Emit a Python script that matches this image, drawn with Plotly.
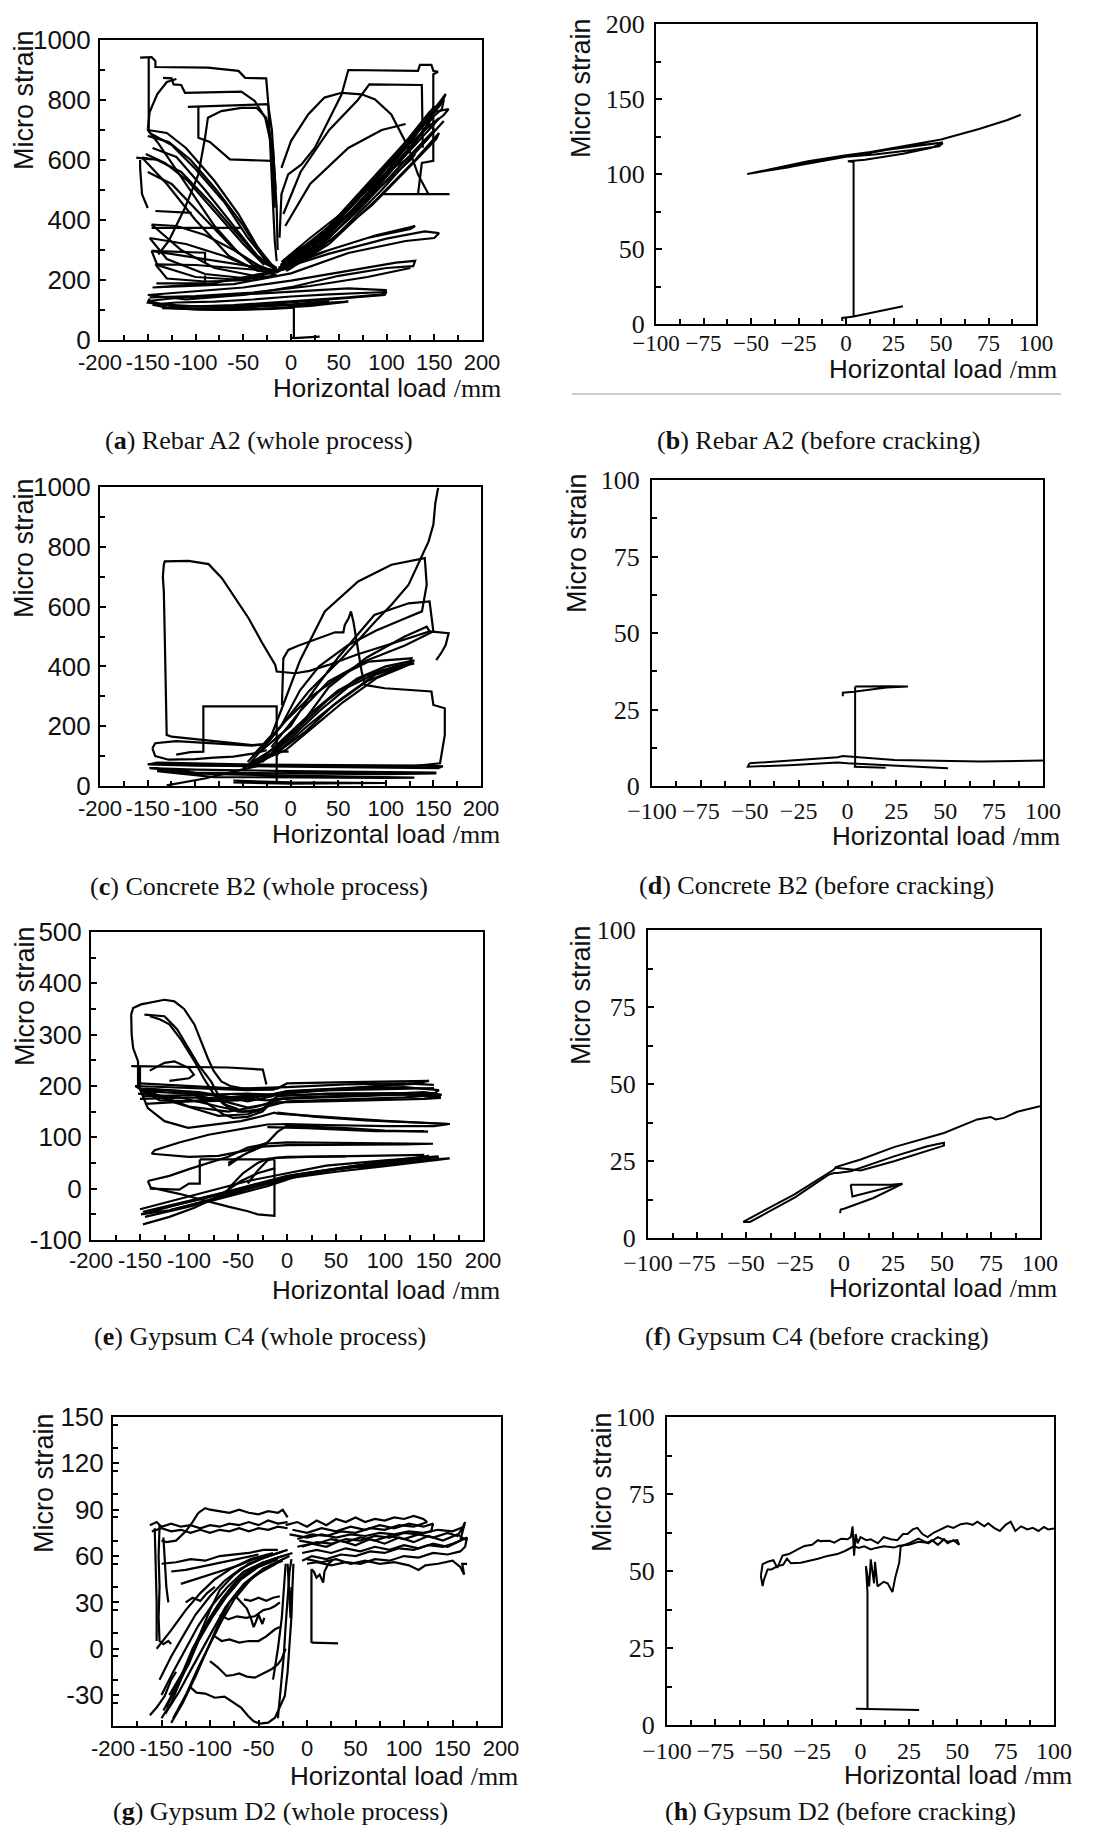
import plotly.graph_objects as go

W, H = 1107, 1825

# ---------------- data ----------------
# (a) Rebar A2, whole process: (horizontal load, micro strain) polylines
A_PATHS = [
    [(0.5, 8), (3, 6), (30, 11)],
    [(3, 6), (3, 108)],
    [(3, 108), (-20, 104), (-60, 100), (-100, 102), (-130, 108), (-145, 118), (-120, 125), (-80, 128), (-40, 135), (0, 145), (40, 152), (80, 158), (100, 160), (98, 150), (60, 140), (20, 130), (-20, 120), (-70, 112), (-120, 112), (-150, 125), (-148, 138)],
    [(-150, 130), (-120, 140), (-60, 150), (0, 162), (60, 172), (100, 166), (95, 152), (60, 142), (0, 128), (-60, 116), (-120, 110), (-150, 130)],
    [(-150, 150), (-110, 160), (-50, 175), (0, 198), (60, 232), (110, 258), (130, 264), (128, 246), (100, 240), (50, 214), (0, 176), (-50, 150), (-110, 135), (-150, 150)],
    [(-145, 175), (-80, 190), (-20, 228), (40, 288), (100, 338), (140, 362), (155, 356), (150, 340), (120, 330), (60, 290), (0, 222), (-60, 186), (-145, 175)],
    [(-135, 106), (-80, 100), (-30, 104), (20, 114), (60, 128), (20, 120), (-40, 110), (-100, 104), (-135, 106)],
    [(-140, 120), (-100, 112), (-50, 110), (0, 118), (40, 130)],
    [(-148, 142), (-100, 146), (-40, 158), (20, 180), (80, 210), (125, 240)],
    [(-15, 230), (20, 300), (60, 420), (100, 560), (130, 680), (150, 780), (148, 740), (120, 620), (80, 470), (40, 340), (0, 240), (-15, 230)],
    [(-12, 240), (30, 340), (70, 480), (110, 620), (145, 760), (160, 800), (158, 770), (130, 690), (90, 540), (50, 400), (10, 280), (-12, 240)],
    [(-10, 250), (40, 380), (80, 520), (120, 660), (150, 760), (165, 770), (160, 750), (140, 700), (100, 580), (60, 440), (20, 320), (-10, 250)],
    [(-15, 225), (30, 320), (80, 480), (125, 640), (145, 720), (150, 700), (120, 600), (70, 430), (25, 300), (-15, 225)],
    [(-10, 260), (20, 340), (60, 440), (100, 560), (130, 620), (125, 600), (90, 500), (40, 370), (-10, 260)],
    [(-12, 235), (40, 300), (90, 350), (130, 380), (125, 370), (80, 340), (30, 290), (-12, 235)],
    [(-8, 245), (30, 330), (70, 450), (110, 590), (140, 700), (155, 740), (150, 720), (115, 600), (75, 460), (35, 340), (-8, 245)],
    [(-5, 230), (40, 320), (90, 470), (130, 600), (155, 690), (152, 670), (125, 580), (85, 450), (40, 330), (-5, 230)],
    [(-13, 240), (25, 320), (65, 450), (105, 590), (140, 720), (158, 790)],
    [(-11, 250), (35, 350), (75, 490), (115, 630), (148, 760), (162, 820), (158, 790)],
    [(-9, 235), (45, 340), (95, 500), (135, 640), (160, 730)],
    [(-12, 341), (-10, 486), (-3, 552), (11, 585), (25, 641), (39, 730), (53, 819), (60, 900), (133, 897), (135, 917), (147, 917), (149, 897), (154, 894), (149, 886), (149, 597), (137, 590), (133, 486)],
    [(-10, 574), (0, 663), (18, 752), (35, 808), (53, 824), (74, 819), (88, 802), (105, 752), (123, 641), (133, 552), (144, 486)],
    [(-8, 420), (10, 560), (40, 700), (70, 800), (82, 852), (137, 850), (138, 641)],
    [(95, 486), (166, 486)],
    [(-6, 380), (20, 520), (60, 640), (95, 700), (120, 720)],
    [(-158, 941), (-146, 943), (-142, 930), (-142, 910), (-87, 908), (-55, 897), (-48, 874), (-26, 872), (-24, 797), (-20, 552), (-17, 330), (-15, 263)],
    [(-149, 942), (-149, 697)],
    [(-134, 874), (-125, 872), (-123, 852), (-115, 850), (-111, 824), (-52, 828), (-38, 797), (-27, 741), (-20, 641), (-17, 441)],
    [(-108, 777), (-24, 786), (-20, 700), (-16, 500)],
    [(-97, 777), (-97, 674), (-85, 660), (-64, 602), (-20, 597)],
    [(-139, 285), (-128, 330), (-111, 441), (-97, 552), (-90, 674), (-87, 741), (-73, 763), (-52, 774), (-36, 774), (-26, 741), (-19, 641), (-15, 441), (-14, 300)],
    [(-150, 700), (-148, 760), (-140, 820), (-130, 860), (-120, 870)],
    [(-150, 700), (-130, 690), (-110, 640), (-80, 530), (-55, 420), (-35, 310), (-20, 250), (-15, 230), (-30, 240), (-55, 290), (-80, 380), (-110, 520), (-140, 660), (-150, 700)],
    [(-156, 608), (-140, 600), (-115, 560), (-85, 460), (-55, 350), (-30, 260), (-15, 235), (-35, 230), (-65, 280), (-100, 400), (-130, 520), (-156, 608)],
    [(-146, 385), (-120, 380), (-90, 350), (-60, 300), (-35, 250), (-15, 225), (-40, 215), (-80, 240), (-115, 300), (-146, 385)],
    [(-148, 340), (-110, 320), (-70, 280), (-40, 240), (-15, 215), (-45, 205), (-90, 220), (-130, 270), (-148, 340)],
    [(-146, 297), (-110, 280), (-70, 260), (-30, 240), (-15, 230), (-50, 200), (-100, 210), (-140, 250), (-146, 297)],
    [(-142, 252), (-100, 250), (-60, 240), (-20, 230), (-40, 200), (-90, 195), (-130, 205), (-142, 252)],
    [(-148, 690), (-125, 650), (-100, 570), (-70, 460), (-45, 340), (-25, 260), (-15, 240)],
    [(-145, 640), (-120, 610), (-90, 500), (-60, 380), (-35, 280), (-18, 240)],
    [(-150, 560), (-125, 520), (-95, 420), (-65, 320), (-40, 250), (-20, 225)],
    [(-150, 680), (-128, 660), (-105, 600), (-78, 500), (-52, 390), (-32, 290), (-18, 235)],
    [(-152, 620), (-132, 590), (-108, 530), (-80, 430), (-50, 320), (-28, 250)],
    [(-162, 608), (-146, 602)],
    [(-158, 600), (-158, 574), (-156, 486), (-153, 463), (-150, 440)],
    [(-142, 430), (-104, 424)],
    [(-146, 374), (-52, 374)],
    [(-146, 297), (-90, 291), (-90, 260)],
    [(-141, 189), (-90, 189), (-90, 215)],
]

# (b) Rebar A2, before cracking
B_PATHS = [
    [(-2, 2), (-2, 4), (1, 4.5), (4, 5), (30, 11.8)],
    [(4, 5), (4, 108), (1, 108.5), (10, 109.5), (30, 113.5), (45, 117.5), (51, 120.5), (49, 118.5), (35, 116), (15, 113), (0, 111.5), (-15, 108), (-35, 103.5), (-52, 100), (-45, 101.5), (-25, 106), (-10, 110), (10, 113.5), (30, 118), (45, 120.5), (51, 121), (42, 120), (20, 116), (0, 112.5), (-20, 108.5), (-40, 103), (-50, 100.5), (-30, 104.5), (-10, 110.5), (10, 114), (30, 118.5), (50, 123), (70, 130), (85, 136), (92, 139.5)],
]

# (c) Concrete B2, whole process
C_PATHS = [
    [(-14.5, 14), (-14.5, 266), (-91.5, 266), (-91.5, 115), (-105, 113), (-120, 105)],
    [(-14.5, 100), (-12, 115), (-2, 115)],
    [(-150, 72), (-100, 68), (0, 65), (100, 62), (155, 60), (160, 66), (140, 68), (50, 70), (-50, 72), (-140, 78), (-150, 72)],
    [(-148, 60), (-100, 55), (0, 50), (100, 47), (152, 45), (152, 42), (100, 40), (0, 42), (-100, 45), (-148, 60)],
    [(-140, 50), (-80, 40), (0, 35), (80, 30), (130, 28), (100, 27), (0, 28), (-80, 30), (-140, 50)],
    [(-60, 18), (0, 12), (100, 10), (0, 8), (-60, 12)],
    [(-130, 2), (-90, 25), (-51, 55), (-30, 70)],
    [(-145, 126), (-142, 143), (-120, 150), (-86, 143), (-60, 140), (-41, 135), (-25, 140)],
    [(-145, 126), (-142, 100), (-128, 88), (-100, 90), (-80, 95), (-60, 98), (-40, 108), (-25, 120)],
    [(5, 377), (-14.5, 383), (-16, 405), (-30, 480), (-44, 561), (-60, 640), (-72, 695), (-86, 742), (-107, 753), (-132, 751), (-133, 740), (-134, 700), (-133, 651), (-132, 500), (-131, 300), (-130, 171), (-125, 165), (-100, 158), (-80, 150), (-55, 142), (-40, 137), (-25, 140)],
    [(5, 377), (20, 385), (40, 405), (70, 440), (110, 480), (146, 517), (166, 511), (163, 472), (159, 449), (153, 421)],
    [(-9, 271), (-7.5, 427), (-2.3, 455), (8, 469), (46.7, 514), (55.5, 514), (57, 539), (61, 561), (63.5, 584), (66, 550), (74.7, 383), (78, 338), (99, 327), (148, 316), (150, 271), (162, 260), (162, 171), (157, 76), (124, 65)],
    [(-40, 100), (-20, 170), (-9, 260), (10, 420), (36, 584), (71, 684), (106, 740), (140, 762), (141, 762), (143, 673), (138, 584), (120, 560), (90, 520), (60, 470), (30, 400), (10, 320), (-10, 200), (-30, 120)],
    [(-30, 120), (0, 200), (20, 300), (50, 430), (88, 572), (124, 611), (146, 617), (148, 560), (150, 517), (120, 470), (80, 420), (40, 350), (10, 250), (-20, 130)],
    [(-20, 110), (10, 200), (40, 330), (80, 430), (120, 500), (143, 533), (146, 517)],
    [(-45, 80), (-9, 204), (19, 316), (54, 427), (89, 550), (106, 606), (124, 673), (134, 740), (145, 818), (150, 874), (152, 945), (155, 997)],
    [(-44, 70), (-23, 148), (-6, 215), (19, 293), (54, 372), (82, 416), (127, 427), (124, 405), (89, 372), (54, 293), (19, 204), (-9, 126), (-44, 70)],
    [(-50, 60), (-20, 120), (10, 200), (40, 290), (70, 360), (100, 400), (130, 420), (120, 400), (90, 360), (55, 280), (25, 200), (-5, 120), (-50, 60)],
    [(-40, 65), (-10, 150), (20, 240), (50, 320), (80, 370), (110, 400), (125, 410), (110, 390), (80, 350), (45, 270), (15, 180), (-15, 110), (-40, 65)],
    [(-30, 80), (0, 160), (30, 250), (60, 330), (95, 385), (130, 410)],
]

# (d) Concrete B2, before cracking
D_PATHS = [
    [(-50.2, 7.4), (-51, 6.3), (-30, 6.8), (-5, 7.7), (0, 7.4), (20, 6.8), (51.4, 5.8)],
    [(-50.2, 7.4), (-30, 8.2), (-5, 9.4), (-2.4, 9.8), (24, 8.5), (68, 8.0), (100, 8.3)],
    [(3.9, 6.3), (3.9, 32.5)],
    [(-2.4, 29.3), (-2.4, 30.5), (3.2, 30.8), (20, 32.2), (30.9, 32.5), (20, 32.6), (3.9, 32.5)],
    [(3.2, 6.3), (19.5, 6.0)],
]

# (e) Gypsum C4, whole process
E_PATHS = [
    [(-12.8, 193), (-30, 193), (-47, 196), (-58, 200), (-67, 209), (-75, 230), (-81, 255), (-88, 290), (-94.5, 320), (-105, 350), (-115, 365), (-125, 368), (-140, 362), (-149, 359), (-157, 352), (-159, 339), (-158.5, 300), (-157, 274), (-152, 248), (-152, 203), (-142, 157), (-125, 131.5), (-101, 118.6), (-74, 125), (-47, 131.6), (-26, 141), (-12.8, 148), (-9.4, 146), (40, 140), (100, 132), (166, 126)],
    [(-145.5, 339), (-135, 338), (-125, 336), (-112, 310), (-101, 274), (-90, 240), (-77.5, 209), (-68, 175), (-60, 157), (-50, 150), (-30, 150), (-20, 160), (-15, 175)],
    [(-140, 336), (-130, 330), (-120, 320), (-108, 290), (-95, 250), (-85, 215), (-75, 185), (-65, 165), (-50, 155)],
    [(-159, 238.6), (-120, 238), (-60, 236), (-24.7, 232), (-21, 203)],
    [(-150, 240), (-150, 200)],
    [(-140, 230), (-125, 245), (-115, 248), (-100, 235), (-95, 222), (-100, 215), (-120, 210)],
    [(-155, 200), (-120, 198), (-80, 195), (-40, 192), (-10, 195), (0, 205), (50, 207), (100, 208), (145, 210), (130, 205), (80, 198), (20, 192), (-10, 185), (-50, 172), (-90, 170), (-130, 172), (-155, 200)],
    [(-150, 195), (-110, 190), (-70, 180), (-40, 170), (-15, 180), (0, 190), (60, 195), (120, 198), (155, 192), (150, 185), (100, 182), (40, 178), (-5, 175), (-30, 160), (-60, 150), (-100, 160), (-150, 195)],
    [(-148, 190), (-100, 185), (-60, 168), (-40, 158), (-20, 165), (-10, 180), (40, 185), (110, 186), (157, 177), (140, 175), (80, 172), (20, 170), (-10, 168), (-40, 145), (-70, 142), (-110, 165), (-148, 190)],
    [(-152, 185), (-110, 178), (-70, 160), (-45, 150), (-25, 155), (-12, 175), (50, 180), (140, 188), (158, 183), (120, 178), (60, 174), (0, 170), (-20, 160)],
    [(-150, 175), (-100, 178), (-60, 175), (-20, 182), (0, 190), (70, 193), (150, 196)],
    [(-145, 165), (-100, 170), (-50, 180), (0, 185), (90, 200), (140, 205)],
    [(-150, 205), (-100, 200), (-50, 195), (0, 198), (60, 203), (120, 205), (150, 202)],
    [(-148, 180), (-100, 182), (-40, 185), (0, 182), (60, 185), (130, 183), (157, 180)],
    [(-145, 195), (-90, 188), (-50, 176), (-20, 172), (10, 178), (80, 182), (150, 186)],
    [(-100, 190), (-80, 165), (-65, 145), (-55, 138), (-40, 140), (-25, 150), (-15, 170)],
    [(-10, 148), (30, 140), (80, 133), (140, 128), (166, 126), (150, 122), (100, 122), (40, 124), (0, 126), (-20, 125), (-50, 115), (-80, 105), (-110, 90), (-135, 75), (-138, 68), (-125, 66), (-100, 62), (-70, 64), (-40, 75), (-20, 90), (-10, 110), (0, 123), (60, 118), (100, 113), (144, 111)],
    [(-20, 120), (20, 118), (90, 112), (140, 112)],
    [(-60, 45), (-45, 65), (-30, 80), (-20, 88), (0, 90), (60, 89), (120, 88), (149, 87.5), (120, 86), (60, 85), (0, 85), (-25, 82), (-40, 70), (-60, 50)],
    [(-142, 15), (-120, 25), (-100, 38), (-80, 50), (-60, 62), (-40, 80), (-20, 88)],
    [(-149, -50), (-120, -35), (-90, -20), (-60, -5), (-30, 10), (0, 25), (50, 38), (100, 48), (150, 57), (166, 59), (150, 55), (100, 44), (50, 33), (0, 20), (-30, 5), (-60, -12), (-90, -28), (-120, -42), (-149, -50)],
    [(-147, -45), (-110, -28), (-70, -10), (-30, 8), (10, 28), (60, 42), (120, 55), (155, 62), (140, 58), (80, 46), (30, 32), (-20, 12), (-60, -8), (-100, -26), (-147, -45)],
    [(-145, -55), (-100, -35), (-60, -15), (-20, 5), (20, 30), (80, 48), (145, 64), (130, 60), (70, 44), (10, 25), (-40, 0), (-80, -22), (-120, -42)],
    [(-150, -40), (-110, -20), (-70, 0), (-40, 15), (0, 30), (40, 45), (100, 55), (154, 63)],
    [(-40, 10), (-30, 35), (-20, 55), (-12.8, 60), (20, 62), (80, 64), (140, 66)],
    [(-60, 0), (-45, 30), (-30, 50), (-20, 58), (0, 62), (60, 63)],
    [(-89, 57), (-12.8, 57)],
    [(-89, 57), (-89, 10), (-100, 10), (-110, -2), (-140, 0)],
    [(-12.8, 57), (-12.8, -53), (-30, -50), (-40, -44), (-60, -35), (-81, -24), (-110, -10), (-139, 2), (-142, 15)],
    [(-147, -69.5), (-120, -55), (-94.5, -37), (-70, -15), (-47, 15), (-30, 30), (-12, 40)],
]

# (f) Gypsum C4, before cracking
F_PATHS = [
    [(-51.4, 5.2), (-49.3, 6), (-25.5, 14.1), (-5.1, 22.2), (-4.2, 23), (8.5, 25.5), (25.5, 29.5), (51, 34.1), (68, 38.5), (74.8, 39.3), (77.4, 38.5), (81.6, 39), (88.4, 41), (100, 42.8)],
    [(-51.4, 5.2), (-48, 5.2), (-25, 13.2), (-8, 20.5), (-5.1, 21.1), (-3.4, 21.1), (3.4, 21.7), (25.5, 26.5), (42.5, 29.8), (51, 30.9), (51, 30), (46, 29), (25.5, 24.9), (8.5, 21.9), (-4.2, 22.8)],
    [(3.4, 17.3), (4.3, 13.5), (29.8, 17.6), (23.8, 17.3), (3.4, 17.3)],
    [(29.8, 17.6), (15, 13), (0, 9.5), (-1.7, 9.2), (-2, 8.1)],
]

# (g) Gypsum D2, whole process
G_PATHS = [
    [(4.6, 3.9), (32, 3.5)],
    [(4.6, 3.9), (4.6, 51.4), (7, 50), (9.8, 46), (13, 48), (16.7, 42.8), (18, 50), (22, 55), (26, 57)],
    [(-22, 80), (-10, 82), (0, 79), (10, 83), (20, 80), (30, 84), (40, 82), (50, 85), (60, 82), (70, 84), (80, 83), (90, 85), (100, 84), (110, 86), (120, 84), (124, 82)],
    [(124, 82), (110, 79), (95, 80), (80, 77), (65, 78), (50, 75), (35, 76), (20, 73), (5, 74), (-10, 71)],
    [(-15, 77), (0, 75), (15, 78), (30, 76), (45, 79), (60, 77), (75, 80), (90, 78), (105, 81), (120, 79), (130, 81), (128, 76), (115, 74), (100, 75), (85, 72), (70, 73), (55, 70), (40, 71), (25, 68), (10, 69), (-5, 66)],
    [(-8, 70), (10, 68), (25, 71), (40, 69), (55, 72), (70, 70), (85, 73), (100, 71), (115, 74), (130, 72), (145, 75), (155, 73), (160, 78), (163, 82), (160, 75), (158, 70), (150, 68), (140, 66), (125, 67), (110, 64), (95, 65), (80, 62), (65, 63), (50, 60), (35, 61), (20, 58), (5, 60), (-5, 57)],
    [(-5, 62), (10, 64), (25, 62), (40, 65), (55, 63), (70, 66), (85, 64), (100, 67), (115, 65), (130, 68), (145, 66), (158, 70), (165, 72), (163, 66), (158, 63), (145, 61), (130, 62), (115, 59), (100, 60), (85, 57), (70, 58), (55, 55), (40, 56), (25, 54), (10, 56), (0, 55)],
    [(0, 58), (15, 56), (30, 58), (45, 55), (60, 57), (75, 55), (90, 56), (105, 54), (115, 51), (122, 54), (135, 55), (150, 57), (158, 53), (162, 48), (160, 55), (165, 55)],
    [(-10, 66), (5, 68), (20, 66), (35, 70), (50, 67), (65, 71), (80, 68), (95, 72), (110, 69), (125, 73), (140, 70), (155, 74), (165, 70)],
    [(-18, 74), (0, 72), (15, 74), (30, 72), (45, 74), (60, 73), (75, 75), (90, 74), (105, 76), (120, 75), (135, 77), (150, 76), (162, 79)],
    [(-162, 80), (-155, 82), (-150, 79), (-140, 81), (-130, 79), (-120, 80), (-110, 78), (-100, 80), (-90, 79), (-80, 81), (-70, 80), (-60, 82), (-50, 80), (-40, 83), (-30, 81), (-20, 82)],
    [(-160, 76), (-150, 78), (-140, 76), (-130, 77), (-120, 75), (-110, 77), (-100, 75), (-90, 77), (-80, 76), (-70, 78), (-60, 76), (-50, 78), (-40, 77), (-30, 79), (-20, 78)],
    [(-112, 88), (-105, 91), (-100, 90), (-90, 89), (-80, 88), (-70, 90), (-60, 88), (-50, 87), (-40, 89), (-30, 88), (-25, 90), (-22, 87), (-20, 85)],
    [(-112, 88), (-118, 82), (-125, 76), (-135, 70), (-145, 69), (-150, 70)],
    [(-152, 80), (-153, 60), (-152, 40), (-153, 20), (-152, 5), (-148, 3), (-143, 5), (-140, 3)],
    [(-157, 78), (-156, 50), (-155, 30), (-155, 5)],
    [(-148, 72), (-146, 50), (-145, 40), (-143, 30)],
    [(-162, -43), (-155, -38), (-146.7, -30.6), (-140, -20), (-135, -15)],
    [(-150, -45), (-140, -35), (-130, -20), (-120, -5), (-110, 10), (-100, 25), (-90, 38), (-75, 48), (-60, 55), (-40, 60), (-20, 64)],
    [(-148, -40), (-135, -25), (-122, -10), (-112, 5), (-100, 20), (-88, 32), (-72, 44), (-55, 52), (-35, 58), (-15, 62)],
    [(-145, -38), (-130, -18), (-118, 0), (-105, 15), (-92, 28), (-78, 40), (-62, 50), (-45, 56), (-25, 60)],
    [(-142, -30), (-125, -12), (-112, 5), (-98, 20), (-84, 33), (-68, 45), (-50, 53), (-30, 58)],
    [(-140, -48), (-128, -35), (-115, -18), (-104, -2), (-92, 15), (-80, 30), (-65, 42), (-45, 52), (-25, 57)],
    [(-150, -30), (-138, -15), (-125, 0), (-112, 15), (-98, 28), (-82, 40), (-65, 50), (-45, 56)],
    [(-138, -45), (-125, -30), (-112, -12), (-100, 3), (-88, 18), (-75, 32), (-58, 45), (-38, 54), (-18, 60)],
    [(-146, -42), (-132, -28), (-120, -14), (-108, 0), (-96, 14), (-84, 27), (-70, 38), (-52, 48), (-32, 55)],
    [(-152, -20), (-140, -5), (-128, 8), (-115, 22), (-100, 34), (-85, 44), (-68, 52), (-48, 58), (-25, 63)],
    [(-155, 0), (-140, 12), (-125, 25), (-110, 36), (-95, 45), (-78, 52), (-58, 58), (-35, 62)],
    [(-150, 55), (-135, 56), (-120, 58), (-105, 57), (-90, 60), (-75, 61), (-60, 62), (-45, 64), (-30, 64)],
    [(-140, 50), (-125, 51), (-110, 53), (-95, 55), (-80, 57), (-65, 59), (-50, 61)],
    [(-130, 42), (-115, 45), (-100, 48), (-85, 51), (-70, 54), (-55, 58), (-40, 60)],
    [(-125, 30), (-118, 33), (-110, 31), (-103, 36), (-95, 40)],
    [(-120, -25), (-114, -28.4), (-105, -29), (-95, -31.7), (-85, -31), (-74.5, -35), (-68, -38), (-60.7, -43.5), (-55, -47), (-48, -48.5), (-40, -47.8), (-33, -44.6), (-28, -38), (-22.9, -30.6), (-20, -15), (-18, 5), (-16, 21), (-15, 40), (-14, 55)],
    [(-100, -8), (-92, -12), (-83, -17.6), (-76, -17), (-70, -16), (-62, -18), (-53.8, -18.7), (-45, -16), (-36.6, -13.3), (-30, -10), (-26.3, -6.9), (-22, 0)],
    [(-95, 8), (-88, 5), (-80, 6), (-70, 4), (-60, 5), (-50, 5), (-42, 8), (-33, 12.6), (-28, 14)],
    [(-90, 22), (-81, 19), (-72, 21), (-63, 20), (-54, 21), (-45, 25), (-38, 26), (-33, 27.7), (-28, 30)],
    [(-75, 35), (-68, 30), (-62, 26), (-58, 20), (-55, 14), (-53, 17), (-50, 22), (-46, 16), (-44, 20)],
    [(-65, 32), (-58, 31), (-50, 33), (-42, 31), (-35, 33), (-28, 34)],
    [(-30, -45), (-27, -25), (-24, -5), (-22, 15), (-20, 35), (-18, 50), (-16, 58)],
    [(-35, -20), (-30, 0), (-26, 20), (-24, 40), (-22, 55)],
    [(-20, 55), (-18, 30), (-17, 20), (-16, 40)],
]

# (h) Gypsum D2, before cracking
H_PATHS = [
    [(-2.4, 5.3), (30.3, 4.9)],
    [(3.6, 5.5), (3.6, 43), (2.8, 51.6), (4.5, 45), (5.3, 53.8), (7, 46), (7.5, 53), (8.8, 45), (12, 46.5), (14, 46), (16.5, 43.2), (18, 48), (20, 52.7), (20.8, 58), (25, 59), (30, 60.5), (35, 59), (40, 61), (45, 59.5), (50, 60), (51, 58.5)],
    [(-51.5, 48.4), (-50.6, 52.2), (-48, 53), (-45, 53.5), (-43, 51), (-40.3, 55), (-37, 55.5), (-34.3, 56.5), (-31, 57.5), (-29, 58.1), (-25, 58.5), (-22, 60), (-20.5, 59.7), (-16, 59.8), (-13.6, 59.2), (-10, 60.5), (-6.7, 60.3), (-5, 61), (-4.1, 64.5), (-3.3, 55), (-2.5, 62), (-1.5, 59), (0, 61), (3, 60), (5.3, 60.3), (9, 59), (12, 61), (15.7, 60.3), (19, 60), (22, 62), (24.3, 62), (27, 63.5), (29.4, 64), (32, 62), (34.6, 61), (38, 62.5), (41.5, 63.5), (45, 64.6), (48, 64), (51.8, 65.2), (55, 65.5), (58, 65), (60.4, 66), (64, 64.5), (66, 65.5), (69, 64), (72, 63), (75, 65), (77.6, 66), (80, 63), (83, 64.5), (86.2, 63.5), (89, 64), (92, 63), (94.8, 64.3), (97, 63.5), (100, 63.8)],
    [(51, 58.5), (48, 60), (45, 59), (43.2, 60.3), (40, 58.5), (37, 60), (34.6, 59.2), (30, 59.5), (25, 58.5), (20, 58.2), (17.4, 57.6), (12, 58), (8, 57.5), (5.3, 57), (2, 58), (-1, 57.5), (-3.3, 58.1), (-8, 56.5), (-12, 55.5), (-17, 54.9), (-22, 54), (-26, 53.5), (-30.8, 52.7), (-36, 52.5), (-38, 54), (-40, 52), (-42.9, 51.6), (-46, 50.5), (-48, 50.5), (-50, 47), (-50.6, 45.1), (-51.5, 48.4)],
]

# tick labels
X_WIDE_TICKS = [-200, -150, -100, -50, 0, 50, 100, 150, 200]
X_WIDE_LABELS = ["-200", "-150", "-100", "-50", "0", "50", "100", "150", "200"]
X_NARROW_TICKS = [-100, -75, -50, -25, 0, 25, 50, 75, 100]
X_NARROW_LABELS = ["\u2212100", "\u221275", "\u221250", "\u221225", "0", "25", "50", "75", "100"]
Y_A_TICKS = [0, 200, 400, 600, 800, 1000]
Y_E_TICKS = [-100, 0, 100, 200, 300, 400, 500]
Y_G_TICKS = [-30, 0, 30, 60, 90, 120, 150]
Y_B_TICKS = [0, 50, 100, 150, 200]
Y_D_TICKS = [0, 25, 50, 75, 100]

CAPTIONS = [
    ("a", "Rebar A2 (whole process)"),
    ("b", "Rebar A2 (before cracking)"),
    ("c", "Concrete B2 (whole process)"),
    ("d", "Concrete B2 (before cracking)"),
    ("e", "Gypsum C4 (whole process)"),
    ("f", "Gypsum C4 (before cracking)"),
    ("g", "Gypsum D2 (whole process)"),
    ("h", "Gypsum D2 (before cracking)"),
]

# ---------------- layout ----------------
SANS = "Liberation Sans, Arial, sans-serif"
SERIF = "Liberation Serif, Times New Roman, serif"


def steps(lo, hi, step):
    n = int(round((hi - lo) / step))
    return [lo + i * step for i in range(n + 1)]


def lab(vals):
    return [str(v) for v in vals]


PANELS = [
    dict(paths=A_PATHS, box=(92, 32, 474, 332), xr=(-200, 200), yr=(0, 1000), xt=X_WIDE_TICKS, xl=X_WIDE_LABELS, xm=25,
         yt=Y_A_TICKS, yl=lab(Y_A_TICKS), ym=100, font=SANS, xfs=22, yfs=26, lw=2.2, xso=2, yso=2,
         yt_pos=(16, 92), xt_pos=(379, 380), cap=(251, 432)),
    dict(paths=B_PATHS, box=(648, 16, 1028, 316), xr=(-100, 100), yr=(0, 200), xt=X_NARROW_TICKS, xl=X_NARROW_LABELS, xm=12.5,
         yt=Y_B_TICKS, yl=lab(Y_B_TICKS), ym=25, font=SERIF, xfs=23, yfs=26, lw=2, xso=-3, yso=4,
         yt_pos=(573, 80), xt_pos=(935, 361), cap=(810, 432)),
    dict(paths=C_PATHS, box=(92, 479, 473, 778), xr=(-200, 200), yr=(0, 1000), xt=X_WIDE_TICKS, xl=X_WIDE_LABELS, xm=25,
         yt=Y_A_TICKS, yl=lab(Y_A_TICKS), ym=100, font=SANS, xfs=22, yfs=26, lw=2.2, xso=2, yso=2,
         yt_pos=(16, 540), xt_pos=(378, 826), cap=(251, 878)),
    dict(paths=D_PATHS, box=(644, 472, 1035, 778), xr=(-100, 100), yr=(0, 100), xt=X_NARROW_TICKS, xl=X_NARROW_LABELS, xm=12.5,
         yt=Y_D_TICKS, yl=lab(Y_D_TICKS), ym=12.5, font=SERIF, xfs=24, yfs=26, lw=2, xso=2, yso=5,
         yt_pos=(569, 535), xt_pos=(938, 828), cap=(808, 877)),
    dict(paths=E_PATHS, box=(83, 924, 475, 1232), xr=(-200, 200), yr=(-100, 500), xt=X_WIDE_TICKS, xl=X_WIDE_LABELS, xm=25,
         yt=Y_E_TICKS, yl=lab(Y_E_TICKS), ym=50, font=SANS, xfs=22, yfs=26, lw=2.2, xso=0, yso=2,
         yt_pos=(17, 988), xt_pos=(378, 1282), cap=(252, 1328)),
    dict(paths=F_PATHS, box=(640, 922, 1032, 1230), xr=(-100, 100), yr=(0, 100), xt=X_NARROW_TICKS, xl=X_NARROW_LABELS, xm=12.5,
         yt=Y_D_TICKS, yl=lab(Y_D_TICKS), ym=12.5, font=SERIF, xfs=24, yfs=26, lw=2, xso=2, yso=5,
         yt_pos=(573, 987), xt_pos=(935, 1280), cap=(809, 1328)),
    dict(paths=G_PATHS, box=(105, 1409, 493, 1718), xr=(-200, 200), yr=(-50, 150), xt=X_WIDE_TICKS, xl=X_WIDE_LABELS, xm=25,
         yt=Y_G_TICKS, yl=lab(Y_G_TICKS), ym=15, font=SANS, xfs=22, yfs=26, lw=2.2, xso=2, yso=2,
         yt_pos=(36, 1475), xt_pos=(396, 1768), cap=(272, 1803)),
    dict(paths=H_PATHS, box=(659, 1409, 1046, 1717), xr=(-100, 100), yr=(0, 100), xt=X_NARROW_TICKS, xl=X_NARROW_LABELS, xm=12.5,
         yt=Y_D_TICKS, yl=lab(Y_D_TICKS), ym=12.5, font=SERIF, xfs=24, yfs=26, lw=2, xso=3, yso=5,
         yt_pos=(594, 1474), xt_pos=(950, 1767), cap=(832, 1803)),
]

fig = go.Figure()
layout = dict(width=W, height=H, margin=dict(l=0, r=0, t=0, b=0, autoexpand=False),
              template="none",
              paper_bgcolor="white", plot_bgcolor="white", showlegend=False)
annotations = []


def px(x):
    return x / W


def py(y):
    return 1 - y / H


for i, p in enumerate(PANELS, start=1):
    xs, ys = [], []
    for path in p["paths"]:
        for x, y in path:
            xs.append(x)
            ys.append(y)
        xs.append(None)
        ys.append(None)
    sfx = "" if i == 1 else str(i)
    fig.add_trace(go.Scatter(x=xs, y=ys, mode="lines", xaxis="x" + sfx, yaxis="y" + sfx,
                             line=dict(color="black", width=p["lw"]), connectgaps=False,
                             hoverinfo="skip", showlegend=False))
    l, t, r, b = p["box"]
    common = dict(showline=True, linecolor="black", linewidth=2, mirror=True,
                  ticks="inside", ticklen=6, tickwidth=1.5, tickcolor="black",
                  showgrid=False, zeroline=False, tickmode="array", fixedrange=True,
                  automargin=False, tickangle=0)
    layout["xaxis" + sfx] = dict(
        common, domain=[px(l), px(r)], range=list(p["xr"]), anchor="y" + sfx,
        tickvals=p["xt"], ticktext=p["xl"], ticklabelstandoff=p["xso"],
        tickfont=dict(family=p["font"], size=p["xfs"], color="#111"),
        minor=dict(ticks="inside", ticklen=5, tickwidth=1.5, tickcolor="black",
                   tickmode="array", tickvals=steps(p["xr"][0], p["xr"][1], p["xm"]), showgrid=False))
    layout["yaxis" + sfx] = dict(
        common, domain=[py(b), py(t)], range=list(p["yr"]), anchor="x" + sfx,
        tickvals=p["yt"], ticktext=p["yl"], ticklabelstandoff=p["yso"],
        tickfont=dict(family=p["font"], size=p["yfs"], color="#111"),
        minor=dict(ticks="inside", ticklen=5, tickwidth=1.5, tickcolor="black",
                   tickmode="array", tickvals=steps(p["yr"][0], p["yr"][1], p["ym"]), showgrid=False))
    yx, yy = p["yt_pos"]
    annotations.append(dict(text="Micro strain", x=px(yx), y=py(yy), xref="paper", yref="paper",
                            textangle=-90, showarrow=False, xanchor="center", yanchor="middle",
                            font=dict(family=SANS, size=27, color="#111")))
    xx, xy = p["xt_pos"]
    annotations.append(dict(text="Horizontal load <span style='font-family:Liberation Serif'>/mm</span>",
                            x=px(xx), y=py(xy), xref="paper", yref="paper",
                            showarrow=False, xanchor="center", yanchor="middle",
                            font=dict(family=SANS, size=26, color="#111")))
    letter, desc = CAPTIONS[i - 1]
    cx, cy = p["cap"]
    annotations.append(dict(text="(<b>%s</b>) %s" % (letter, desc), x=px(cx), y=py(cy),
                            xref="paper", yref="paper", showarrow=False,
                            xanchor="center", yanchor="middle",
                            font=dict(family=SERIF, size=26, color="#111")))

layout["annotations"] = annotations
layout["shapes"] = [dict(type="line", xref="paper", yref="paper", x0=px(564), x1=px(1053),
                         y0=py(386), y1=py(386), line=dict(color="#999999", width=1))]
fig.update_layout(**layout)
fig.write_html("out.html")
